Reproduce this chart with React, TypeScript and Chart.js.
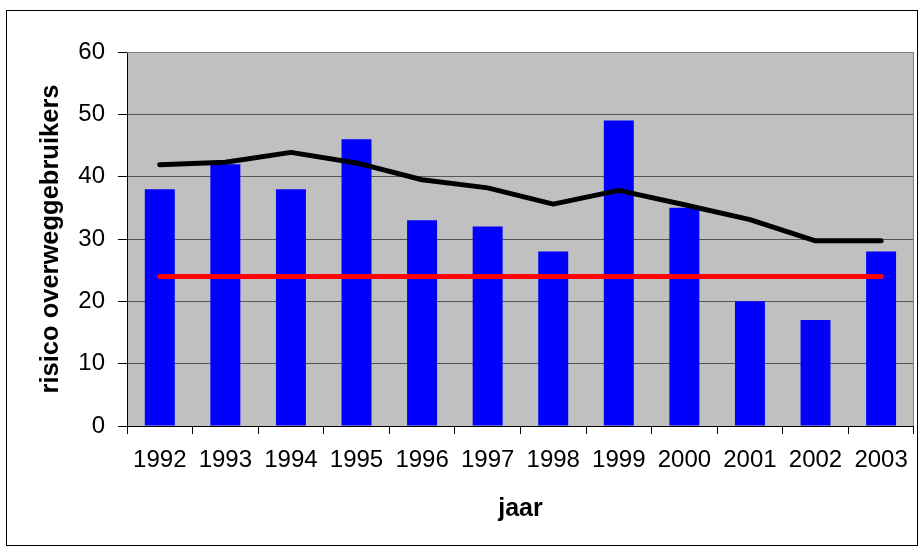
import React, { useEffect, useRef } from "react";
import { Chart, registerables } from "chart.js";

Chart.register(...registerables);

const years = ["1992", "1993", "1994", "1995", "1996", "1997", "1998", "1999", "2000", "2001", "2002", "2003"];
const riskValues = [38, 42, 38, 46, 33, 32, 28, 49, 35, 20, 17, 28];
const trendValues = [41.9, 42.3, 43.9, 42.2, 39.5, 38.2, 35.6, 37.8, 35.5, 33.1, 29.7, 29.7];
const normValues = [24, 24, 24, 24, 24, 24, 24, 24, 24, 24, 24, 24];
const yTicks = [0, 10, 20, 30, 40, 50, 60];

const FONT = "'Liberation Sans', Arial, sans-serif";

const bgPlugin = {
  id: "plotBg",
  beforeDraw(chart: any) {
    const { ctx, chartArea } = chart;
    ctx.save();
    ctx.fillStyle = "#ffffff";
    ctx.fillRect(0, 0, chart.width, chart.height);
    ctx.fillStyle = "#C0C0C0";
    ctx.fillRect(chartArea.left, chartArea.top, chartArea.right - chartArea.left, chartArea.bottom - chartArea.top);
    ctx.restore();
  },
  afterDraw(chart: any) {
    const { ctx, chartArea } = chart;
    ctx.save();
    ctx.strokeStyle = "#808080";
    ctx.lineWidth = 1;
    ctx.beginPath();
    ctx.moveTo(chartArea.left, chartArea.top + 0.5);
    ctx.lineTo(chartArea.right - 0.5, chartArea.top + 0.5);
    ctx.lineTo(chartArea.right - 0.5, chartArea.bottom);
    ctx.stroke();
    ctx.strokeStyle = "#000000";
    ctx.strokeRect(6.5, 10.5, 911, 535);
    ctx.restore();
  },
};

export default function App() {
  const ref = useRef<HTMLCanvasElement>(null);
  useEffect(() => {
    if (!ref.current) return;
    const chart = new Chart(ref.current, {
      type: "bar",
      data: {
        labels: years,
        datasets: [
          {
            type: "line",
            data: trendValues,
            borderColor: "#000000",
            borderWidth: 5,
            pointRadius: 0,
            tension: 0,
            borderCapStyle: "round",
            borderJoinStyle: "round",
            order: 1,
          } as any,
          {
            type: "line",
            data: normValues,
            borderColor: "#FF0000",
            borderWidth: 5,
            pointRadius: 0,
            tension: 0,
            borderCapStyle: "round",
            order: 2,
          } as any,
          {
            type: "bar",
            data: riskValues,
            backgroundColor: "#0000FF",
            borderWidth: 0,
            barPercentage: 0.457,
            categoryPercentage: 1,
            order: 3,
          },
        ],
      },
      options: {
        animation: false,
        responsive: false,
        layout: { padding: { top: 52, right: 5, left: 0, bottom: 0 } },
        plugins: { legend: { display: false }, tooltip: { enabled: false } },
        scales: {
          x: {
            offset: true,
            grid: {
              offset: true,
              drawOnChartArea: false,
              drawTicks: true,
              tickLength: 8,
              color: "#000000",
            },
            border: { display: true, color: "#000000", width: 1 },
            ticks: { color: "#000000", font: { family: FONT, size: 24 }, padding: 12, maxRotation: 0, autoSkip: false },
            title: {
              display: true,
              text: "jaar",
              color: "#000000",
              font: { family: FONT, size: 25, weight: "bold" },
              padding: { top: 0, bottom: 24 },
            },
            afterFit(scale: any) {
              scale.height = 122;
            },
          },
          y: {
            min: 0,
            max: 60,
            afterBuildTicks(scale: any) {
              scale.ticks = yTicks.map((v) => ({ value: v }));
            },
            grid: {
              color: "#555555",
              tickColor: "#000000",
              tickLength: 9,
              drawTicks: true,
            },
            border: { display: true, color: "#000000", width: 1 },
            ticks: { color: "#000000", font: { family: FONT, size: 24 }, padding: 13 },
            title: {
              display: true,
              text: "risico overweggebruikers",
              color: "#000000",
              font: { family: FONT, size: 25.5, weight: "bold" },
              padding: { top: 36, bottom: 0 },
            },
            afterFit(scale: any) {
              scale.width = 127;
            },
          },
        },
      },
      plugins: [bgPlugin],
    });
    return () => chart.destroy();
  }, []);
  return (
    <div style={{ position: "absolute", left: 0, top: 0, width: 920, height: 548 }}>
      <canvas ref={ref} width={920} height={548} />
    </div>
  );
}
